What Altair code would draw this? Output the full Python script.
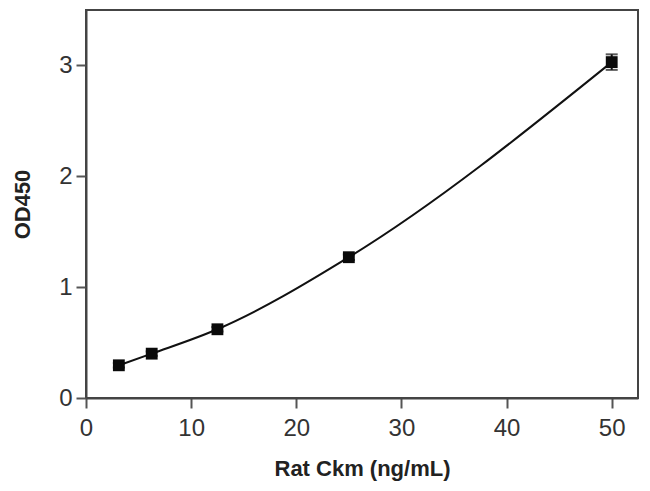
import altair as alt
import pandas as pd

conc = [3.125, 6.25, 12.5, 25, 50]
od = [0.295, 0.40, 0.62, 1.27, 3.03]
err = [0.02, 0.02, 0.02, 0.025, 0.07]

df = pd.DataFrame({"conc": conc, "od": od, "err": err})
df["lo"] = df["od"] - df["err"]
df["hi"] = df["od"] + df["err"]

FONT = "Liberation Sans"
AX = "#444444"

x = alt.X("conc:Q",
          scale=alt.Scale(domain=[0, 52.5], nice=False, zero=False),
          axis=alt.Axis(values=[0, 10, 20, 30, 40, 50], format="d", title="Rat Ckm (ng/mL)",
                        grid=False, tickSize=10, tickWidth=2, tickColor="#555555",
                        domainColor=AX, domainWidth=2, labelFont=FONT, labelFontSize=24,
                        labelColor="#333333", labelPadding=8, labelFlush=False,
                        titleFont=FONT, titleFontSize=22, titleFontWeight="bold",
                        titleColor="#222222", titleY=77, titleBaseline="alphabetic"))
y = alt.Y("od:Q",
          scale=alt.Scale(domain=[0, 3.5], nice=False),
          axis=alt.Axis(values=[0, 1, 2, 3], format="d", title="OD450", grid=False,
                        tickSize=10, tickWidth=2, tickColor="#555555",
                        domainColor=AX, domainWidth=2, labelFont=FONT, labelFontSize=24,
                        labelColor="#333333", labelPadding=4,
                        titleFont=FONT, titleFontSize=22, titleFontWeight="bold",
                        titleColor="#222222", titleX=-64, titleBaseline="middle"))

base = alt.Chart(df)

line = base.mark_line(color="#111111", strokeWidth=2, interpolate="monotone").encode(x=x, y=y)
bars = base.mark_rule(color="#111111", strokeWidth=2).encode(x="conc:Q", y="lo:Q", y2="hi:Q")
caps_lo = base.mark_tick(color="#111111", thickness=2, size=12, orient="horizontal").encode(x="conc:Q", y="lo:Q")
caps_hi = base.mark_tick(color="#111111", thickness=2, size=12, orient="horizontal").encode(x="conc:Q", y="hi:Q")
pts = base.mark_point(shape="square", filled=True, size=140, color="#0a0a0a", opacity=1).encode(x="conc:Q", y="od:Q")

chart = (line + bars + caps_lo + caps_hi + pts).properties(
    width=552, height=388,
    autosize=alt.AutoSizeParams(type="none"),
    padding={"left": 78, "top": 2, "right": 4, "bottom": 84},
    background="white",
).configure_view(stroke=AX, strokeWidth=2)

chart.save("out.html", embed_options={"renderer": "svg", "actions": False})
